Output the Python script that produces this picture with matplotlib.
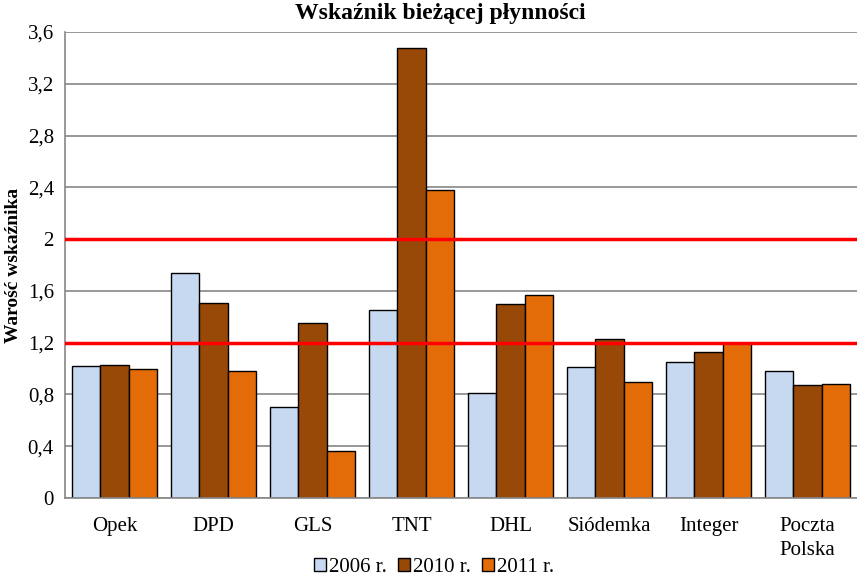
import matplotlib
matplotlib.use("Agg")
import matplotlib.pyplot as plt
import numpy as np

categories = ["Opek", "DPD", "GLS", "TNT", "DHL", "Siódemka", "Integer", "Poczta\nPolska"]
series_names = ["2006 r.", "2010 r.", "2011 r."]
v2006 = [1.02, 1.74, 0.70, 1.45, 0.81, 1.01, 1.05, 0.98]
v2010 = [1.03, 1.51, 1.35, 3.48, 1.50, 1.23, 1.13, 0.87]
v2011 = [1.00, 0.98, 0.36, 2.38, 1.57, 0.90, 1.20, 0.88]
ref_lines = [1.2, 2.0]
yticks = [0, 0.4, 0.8, 1.2, 1.6, 2.0, 2.4, 2.8, 3.2, 3.6]
ytick_labels = ["0", "0,4", "0,8", "1,2", "1,6", "2", "2,4", "2,8", "3,2", "3,6"]
colors = ["#C6D9F0", "#984807", "#E36C09"]

plt.rcParams['font.family'] = ['Liberation Serif', 'DejaVu Serif']

fig = plt.figure(figsize=(8.57, 5.82), dpi=100)
ax = fig.add_axes([65/857, 1-498/582, 792/857, (498-32)/582])

x = np.arange(len(categories))
w = 0.285
for i, (vals, c, name) in enumerate(zip([v2006, v2010, v2011], colors, series_names)):
    ax.bar(x + (i-1)*w, vals, width=w, color=c, edgecolor="black", linewidth=1.0, label=name, zorder=2)

for r in ref_lines:
    ax.axhline(r, color="#FF0000", linewidth=2.5, zorder=3)

ax.set_xlim(-0.5, len(categories)-0.5)
ax.set_ylim(0, 3.6)
ax.set_yticks(yticks)
ax.set_yticklabels(ytick_labels, fontsize=15)
ax.set_xticks(x)
ax.set_xticklabels(categories, fontsize=15, linespacing=1.3)
ax.tick_params(axis='both', length=0, pad=8)
ax.tick_params(axis='x', pad=14)
ax.yaxis.grid(True, color="#868686", linewidth=1.2, zorder=0)
ax.set_axisbelow(True)
for s in ["top", "right"]:
    ax.spines[s].set_visible(False)
for s in ["left", "bottom"]:
    ax.spines[s].set_color("#868686")
    ax.spines[s].set_linewidth(1.2)

fig.text(14/857, 1-265/582, "Warość wskaźnika", fontsize=14, fontweight="bold",
         rotation=90, ha="center", va="center")
fig.text(440/857, 1-14/582, "Wskaźnik bieżącej płynności", fontsize=17, fontweight="bold",
         ha="center", va="center")

fig.legend(loc="center", bbox_to_anchor=(434/857, 1-567/582), ncol=3, frameon=False,
           fontsize=15, handlelength=0.6, handleheight=0.6, handletextpad=0.15, columnspacing=0.5)

fig.savefig("out.png", dpi=100)
